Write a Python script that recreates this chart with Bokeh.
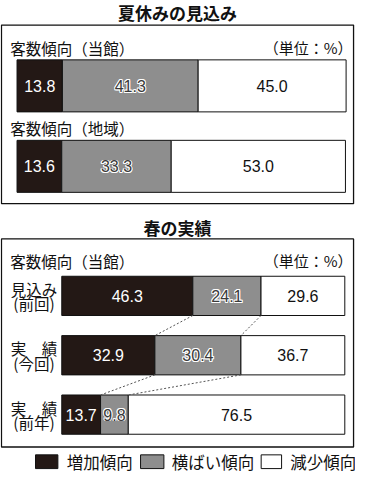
from bokeh.plotting import figure
from bokeh.models import Range1d, ColumnDataSource
from bokeh.core.properties import value
from bokeh.embed import file_html
from bokeh.resources import INLINE

# ---------------- data ----------------
title_top = "夏休みの見込み"
title_bottom = "春の実績"
unit_label = "（単位：%）"

top_rows = ["客数傾向（当館）", "客数傾向（地域）"]
top_increase = [13.8, 13.6]
top_flat = [41.3, 33.3]
top_decrease = [45.0, 53.0]

bottom_header = "客数傾向（当館）"
bottom_rows_line1 = ["見込み", "実　績", "実　績"]
bottom_rows_line2 = ["(前回)", "(今回)", "(前年)"]
bottom_increase = [46.3, 32.9, 13.7]
bottom_flat = [24.1, 30.4, 9.8]
bottom_decrease = [29.6, 36.7, 76.5]

legend_labels = ["増加傾向", "横ばい傾向", "減少傾向"]

# ---------------- style ----------------
C_BLACK = "#231815"
C_GREY = "#8e8e8e"
C_WHITE = "#ffffff"
JP = value("Noto Sans CJK JP")
NUM = value("'Liberation Sans Narrow', 'Liberation Sans', sans-serif")

# layout in reference-pixel units
XL, XR = 4, 369
YT, YB = 5, 487
W, H = 355, 473

# top panel bars map 0..100 % to x 21..359, bottom to 67..358
def pct_range(x0, x1):
    s = (x1 - x0) / 100.0
    return Range1d((XL - x0) / s, (XR - x0) / s)

p = figure(width=W, height=H, x_range=Range1d(XL, XR), y_range=Range1d(YB, YT),
           output_backend="svg", toolbar_location=None,
           x_axis_location=None, y_axis_location=None,
           min_border=0, outline_line_color=None, background_fill_color="white",
           border_fill_color="white")
p.grid.visible = False
p.extra_x_ranges = {"top": pct_range(21, 359), "bot": pct_range(67, 358)}

# panel frames
p.quad(left=[5, 5], right=[367, 367], top=[30, 248], bottom=[212, 460],
       fill_color=None, line_color="#111111", line_width=1.3)

# titles
p.text(x=[186, 186], y=[17, 236], text=[title_top, title_bottom], text_font=JP,
       text_font_size="17px", text_font_style="bold", text_align="center",
       text_baseline="middle", text_color="#111111")

# section labels
p.text(x=[14, 14, 14], y=[53, 135, 270], text=top_rows + [bottom_header], text_font=JP,
       text_font_size="15.5px", text_align="left", text_baseline="middle",
       text_color="#111111")
p.text(x=[366, 366], y=[53, 270], text=[unit_label, unit_label], text_font=JP,
       text_font_size="15px", text_align="right", text_baseline="middle",
       text_color="#111111")


def draw_bars(rng, ys, h, inc, flat, dec):
    n = len(ys)
    c1 = inc
    c2 = [a + b for a, b in zip(inc, flat)]
    c3 = [a + b for a, b in zip(c2, dec)]
    src = ColumnDataSource(dict(y=ys, l0=[0] * n, r0=c1, r1=c2, r2=c3))
    p.hbar(y="y", height=h, left="l0", right="r0", source=src, x_range_name=rng,
           fill_color=C_BLACK, line_color="#111111", line_width=1)
    p.hbar(y="y", height=h, left="r0", right="r1", source=src, x_range_name=rng,
           fill_color=C_GREY, line_color="#111111", line_width=1)
    p.hbar(y="y", height=h, left="r1", right="r2", source=src, x_range_name=rng,
           fill_color=C_WHITE, line_color="#111111", line_width=1)
    m1 = [v / 2 for v in c1]
    m2 = [(a + b) / 2 for a, b in zip(c1, c2)]
    m3 = [(a + b) / 2 for a, b in zip(c2, c3)]
    fmt = lambda arr: ["%.1f" % v for v in arr]
    common = dict(text_font=NUM, text_font_size="16px", text_align="center",
                  text_baseline="middle", x_range_name=rng)
    p.text(x=m1, y=ys, text=fmt(inc), text_color="white", **common)
    for dx, dy in [(-1, 0), (1, 0), (0, -1), (0, 1), (-1, -1), (1, 1), (-1, 1), (1, -1)]:
        p.text(x=m2, y=ys, text=fmt(flat), text_color="white", x_offset=dx * 0.8,
               y_offset=dy * 0.8, **common)
    p.text(x=m2, y=ys, text=fmt(flat), text_color="#3a3a3a", **common)
    p.text(x=m3, y=ys, text=fmt(dec), text_color="#111111", **common)
    return c1, c2


draw_bars("top", [92, 174], 53, top_increase, top_flat, top_decrease)
ys_b = [306, 366.5, 427]
hb = 40
c1, c2 = draw_bars("bot", ys_b, hb, bottom_increase, bottom_flat, bottom_decrease)

# dotted connectors between consecutive bars
x0s, x1s, y0s, y1s = [], [], [], []
for i in range(len(ys_b) - 1):
    for c in (c1, c2):
        x0s.append(c[i]); x1s.append(c[i + 1])
        y0s.append(ys_b[i] + hb / 2); y1s.append(ys_b[i + 1] - hb / 2)
p.segment(x0=x0s, y0=y0s, x1=x1s, y1=y1s, x_range_name="bot",
          line_color="#555555", line_width=1, line_dash="2 2")

# row labels (bottom panel)
p.text(x=[38.5] * 3, y=[y - 7 for y in ys_b], text=bottom_rows_line1, text_font=JP,
       text_font_size="15.5px", text_align="center", text_baseline="middle",
       text_color="#111111")
p.text(x=[38.5] * 3, y=[y + 7.5 for y in ys_b], text=bottom_rows_line2, text_font=JP,
       text_font_size="15.5px", text_align="center", text_baseline="middle",
       text_color="#111111")

# legend
p.quad(left=[40, 148, 272], right=[63, 172, 293], top=[468, 468, 468],
       bottom=[482, 482, 482], fill_color=[C_BLACK, C_GREY, C_WHITE],
       line_color="#111111", line_width=1)
p.text(x=[72, 180, 302], y=[475, 475, 475], text=legend_labels, text_font=JP,
       text_font_size="16.5px", text_align="left", text_baseline="middle",
       text_color="#111111")

open("out.html", "w").write(file_html(p, INLINE))
